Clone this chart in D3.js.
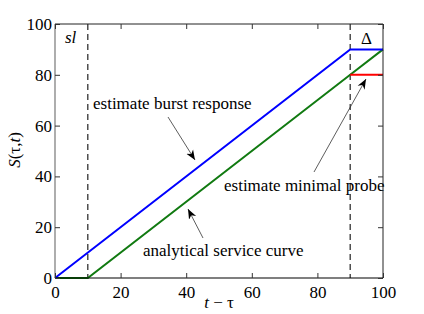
<!DOCTYPE html>
<html><head><meta charset="utf-8">
<script src="https://cdn.jsdelivr.net/npm/d3@7"></script>
<style>body{margin:0;background:#fff}svg{display:block}text{font-family:"Liberation Serif","Times New Roman","DejaVu Serif",serif}</style>
</head><body>
<script>
const xTicks = [0,20,40,60,80,100];
const yTicks = [0,20,40,60,80,100];
const burstResponse = [[0,0],[90,90],[100,90]];
const serviceCurve = [[0,0],[10,0],[90,80],[100,90]];
const minimalProbe = [[90,80],[100,80]];
const dashedX = [10,90];

const W=424,H=314;
const m={l:55,r:41,t:24,b:36};
const svg=d3.select("body").append("svg").attr("width",W).attr("height",H);
const x=d3.scaleLinear().domain([0,100]).range([m.l,W-m.r]);
const y=d3.scaleLinear().domain([0,100]).range([H-m.b,m.t]);

svg.append("defs").append("marker").attr("id","ah").attr("viewBox","0 0 10 10").attr("refX",10).attr("refY",5)
  .attr("markerWidth",10).attr("markerHeight",10).attr("markerUnits","userSpaceOnUse").attr("orient","auto")
  .append("path").attr("d","M0,1 L10,5 L0,9 L3,5 Z").attr("fill","#000");

dashedX.forEach(v=>{
  svg.append("line").attr("x1",x(v)).attr("x2",x(v)).attr("y1",y(100)).attr("y2",y(0))
    .attr("stroke","#333").attr("stroke-width",1.3).attr("stroke-dasharray","6,4");
});

const line=d3.line().x(d=>x(d[0])).y(d=>y(d[1]));
svg.append("path").datum(serviceCurve).attr("d",line).attr("fill","none").attr("stroke","#117a11").attr("stroke-width",2);
svg.append("path").datum(burstResponse).attr("d",line).attr("fill","none").attr("stroke","#0000ff").attr("stroke-width",2);
svg.append("path").datum(minimalProbe).attr("d",line).attr("fill","none").attr("stroke","#ff0000").attr("stroke-width",2);

const ax=svg.append("g");
ax.append("line").attr("x1",x(0)).attr("x2",x(100)).attr("y1",y(100)).attr("y2",y(100)).attr("stroke","#222");
ax.append("line").attr("x1",x(100)).attr("x2",x(100)).attr("y1",y(0)).attr("y2",y(100)).attr("stroke","#222");
ax.append("line").attr("x1",x(0)).attr("x2",x(100)).attr("y1",y(0)).attr("y2",y(0)).attr("stroke","#000").attr("stroke-width",1.2);
ax.append("line").attr("x1",x(0)).attr("x2",x(0)).attr("y1",y(0)).attr("y2",y(100)).attr("stroke","#777").attr("stroke-width",1.2);

const xb=svg.append("g").attr("transform",`translate(0,${y(0)})`).call(d3.axisBottom(x).tickValues(xTicks).tickSize(-5).tickPadding(8));
const xt=svg.append("g").attr("transform",`translate(0,${y(100)})`).call(d3.axisTop(x).tickValues(xTicks).tickSize(-5).tickFormat(""));
const yl=svg.append("g").attr("transform",`translate(${x(0)},0)`).call(d3.axisLeft(y).tickValues(yTicks).tickSize(-5).tickPadding(3));
const yr=svg.append("g").attr("transform",`translate(${x(100)},0)`).call(d3.axisRight(y).tickValues(yTicks).tickSize(-5).tickFormat(""));
[xb,xt,yl,yr].forEach(g=>{g.attr("font-family",null);g.select(".domain").remove();g.selectAll(".tick line").attr("stroke","#333");
  g.selectAll("text").attr("font-size",17).attr("fill","#000");});
xb.selectAll("text").attr("dy","0.71em");

svg.append("text").attr("x",219).attr("y",308).attr("text-anchor","middle").attr("font-size",17)
  .html('<tspan font-style="italic">t</tspan> − τ');
svg.append("text").attr("transform","translate(20,150) rotate(-90)").attr("text-anchor","middle").attr("font-size",17)
  .html('<tspan font-style="italic">S</tspan>(τ,<tspan font-style="italic">t</tspan>)');

svg.append("text").attr("x",65).attr("y",43).attr("font-size",17).attr("font-style","italic").text("sl");
svg.append("text").attr("x",361).attr("y",44).attr("font-size",17).text("Δ");
svg.append("text").attr("x",93).attr("y",109).attr("font-size",17).text("estimate burst response");
svg.append("text").attr("x",224).attr("y",191).attr("font-size",17).text("estimate minimal probe");
svg.append("text").attr("x",143).attr("y",256).attr("font-size",17).text("analytical service curve");

function arrow(x1,y1,x2,y2){
  svg.append("line").attr("x1",x1).attr("y1",y1).attr("x2",x2).attr("y2",y2)
   .attr("stroke","#333").attr("stroke-width",0.8).attr("marker-end","url(#ah)");
}
arrow(168,117,195,160);
arrow(314,172,366,79);
arrow(203,238,188,209);
</script>
</body></html>
